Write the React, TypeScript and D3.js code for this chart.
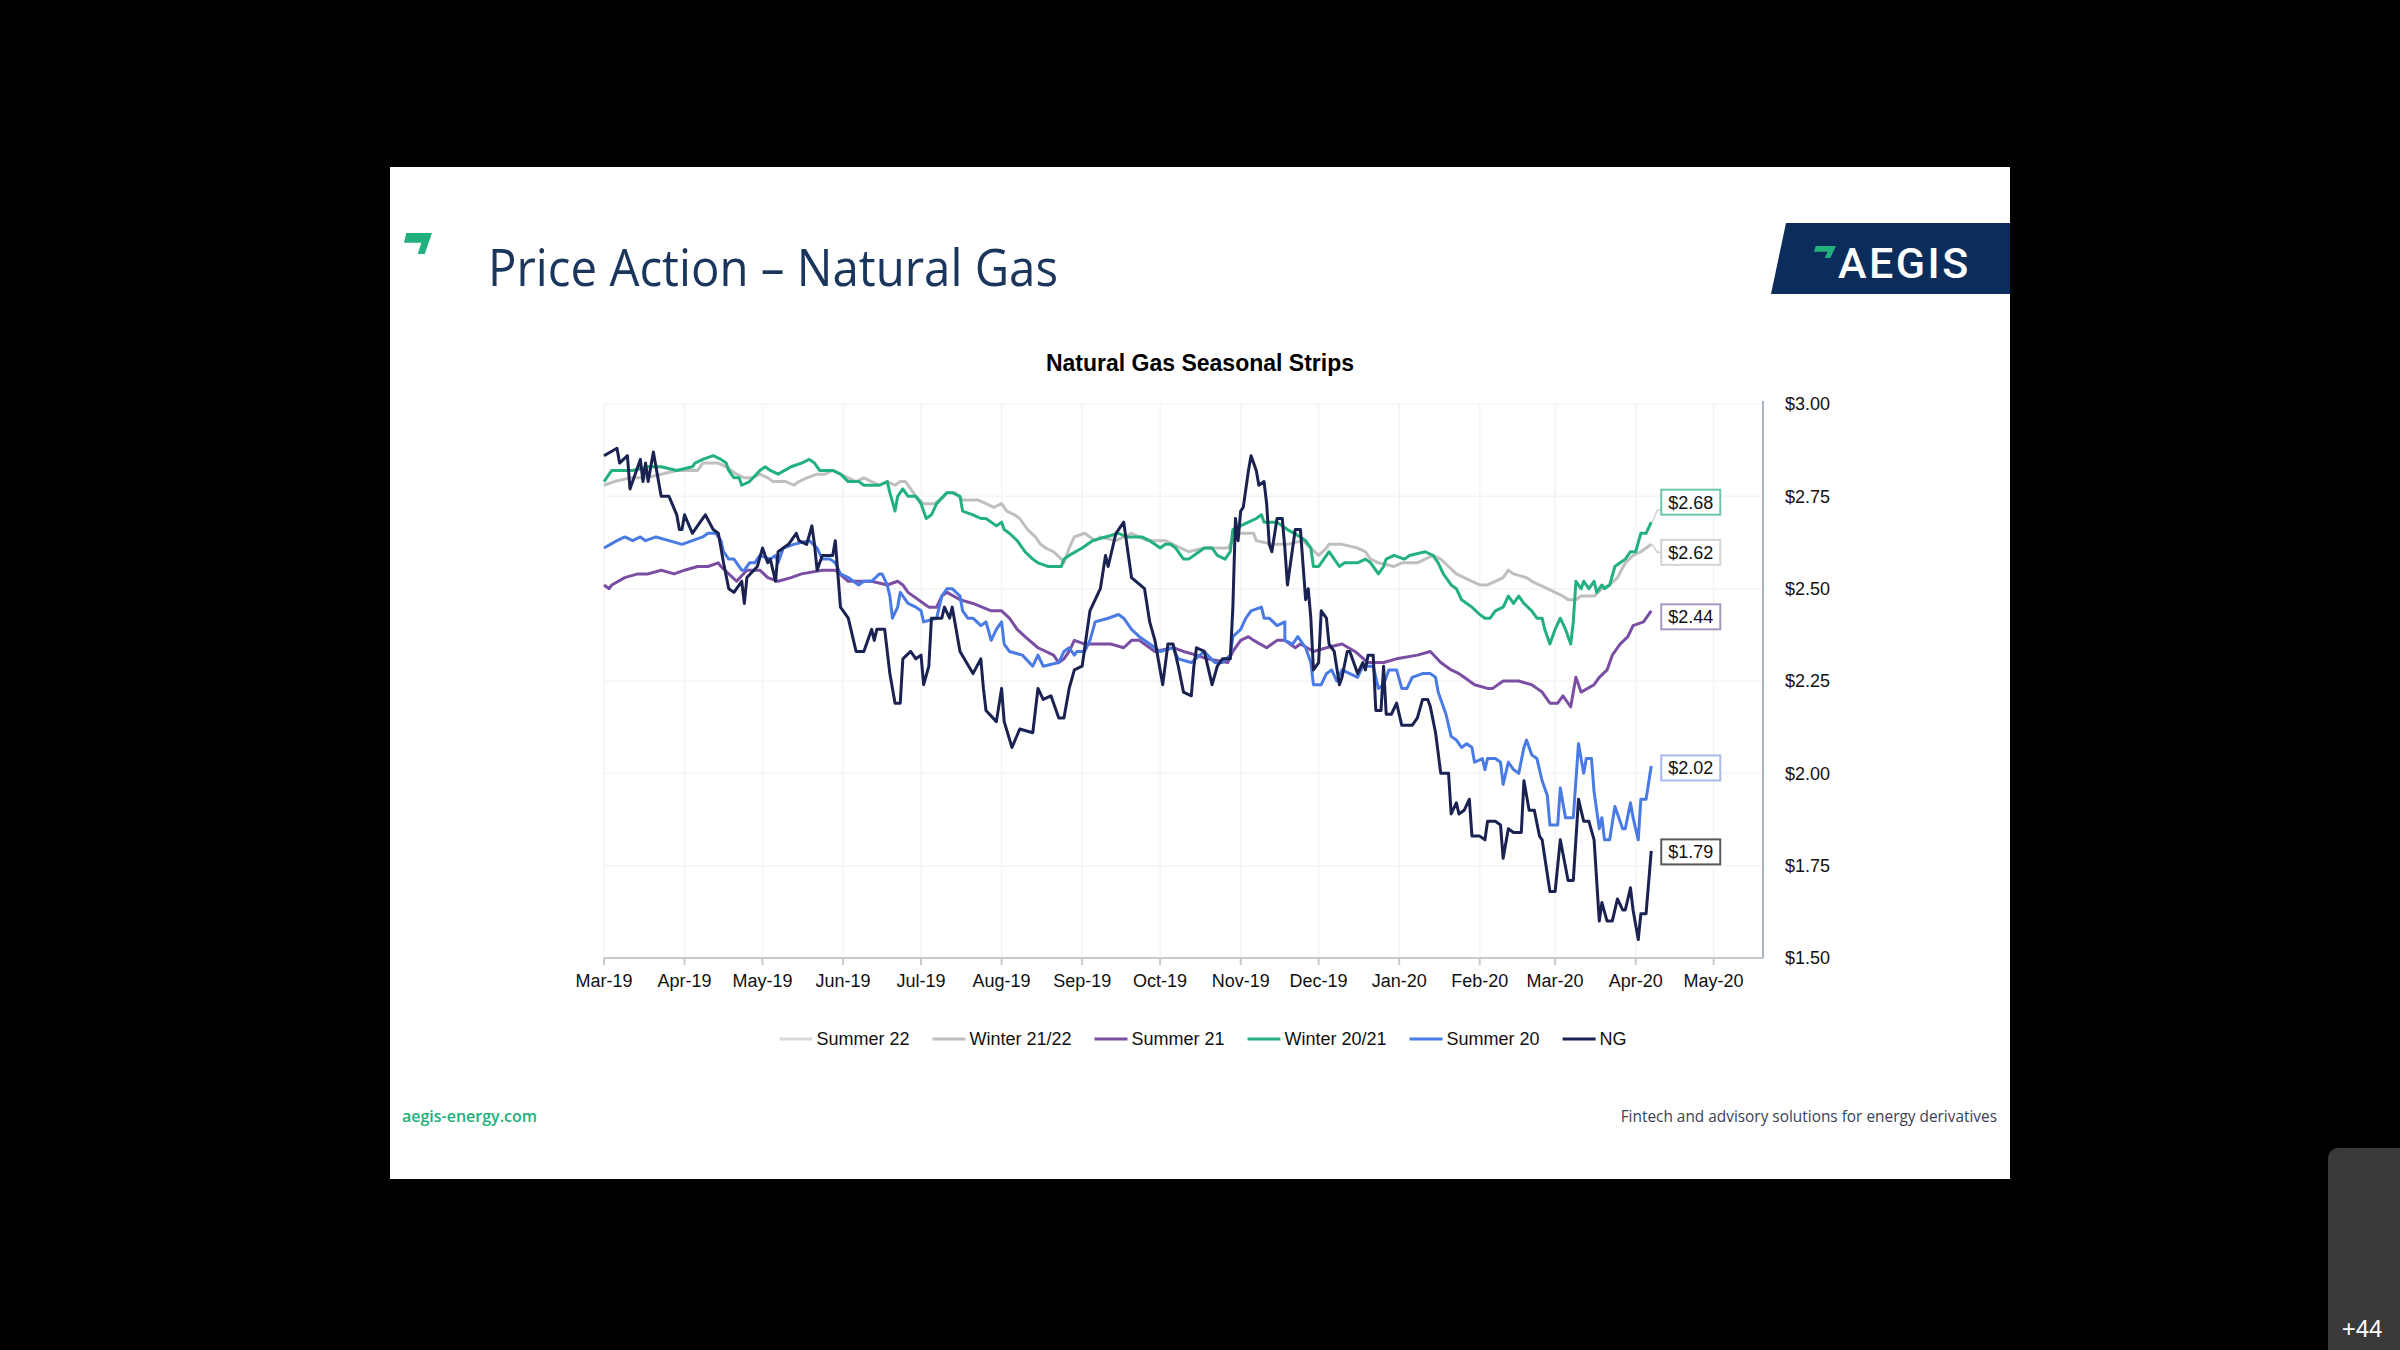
import * as d3 from "d3";

// days counted from 1 Mar 2019, value in $/MMBtu
type Pt = [number, number];

const START = new Date(2019, 2, 1);
const X_END = new Date(2020, 4, 20);
const MONTH_TICKS = d3.timeMonth.range(new Date(2019, 2, 1), new Date(2020, 4, 2));
const Y_TICKS = [1.5, 1.75, 2.0, 2.25, 2.5, 2.75, 3.0];

const NG: Pt[] = [
  [0, 2.86], [5, 2.88], [6, 2.84], [9, 2.86], [10, 2.77], [14, 2.85], [15, 2.79], [16, 2.84], [17, 2.79], [19, 2.87],
  [20, 2.83], [22, 2.75], [25, 2.75], [28, 2.7], [29, 2.66], [30, 2.66], [31, 2.7], [34, 2.65], [35, 2.66], [37, 2.68],
  [39, 2.7], [42, 2.66], [44, 2.65], [46, 2.57], [48, 2.5], [50, 2.49], [53, 2.52], [54, 2.46], [55, 2.53], [59, 2.56],
  [61, 2.61], [63, 2.57], [64, 2.58], [66, 2.52], [67, 2.6], [71, 2.62], [74, 2.65], [75, 2.63], [78, 2.62], [80, 2.67],
  [81, 2.62], [82, 2.55], [84, 2.59], [88, 2.59], [89, 2.63], [91, 2.45], [94, 2.42], [97, 2.33], [100, 2.33], [103, 2.39],
  [104, 2.36], [105, 2.39], [108, 2.39], [110, 2.27], [112, 2.19], [114, 2.19], [115, 2.31], [118, 2.33], [120, 2.31], [122, 2.32],
  [123, 2.24], [125, 2.29], [126, 2.42], [130, 2.42], [131, 2.45], [133, 2.42], [134, 2.45], [137, 2.33], [142, 2.27], [145, 2.31],
  [146, 2.23], [147, 2.17], [151, 2.14], [153, 2.23], [154, 2.14], [157, 2.07], [160, 2.12], [165, 2.11], [167, 2.23], [169, 2.2],
  [172, 2.21], [175, 2.15], [177, 2.15], [179, 2.23], [181, 2.28], [184, 2.29], [187, 2.44], [191, 2.5], [193, 2.59], [194, 2.56],
  [197, 2.65], [200, 2.68], [203, 2.53], [208, 2.5], [210, 2.41], [212, 2.36], [215, 2.24], [217, 2.35], [219, 2.35], [221, 2.29],
  [223, 2.22], [226, 2.21], [227, 2.29], [228, 2.34], [231, 2.33], [234, 2.24], [236, 2.29], [238, 2.31], [241, 2.31], [242, 2.45],
  [243, 2.69], [244, 2.63], [245, 2.71], [246, 2.72], [248, 2.82], [249, 2.86], [251, 2.82], [252, 2.78], [254, 2.79], [255, 2.73],
  [256, 2.62], [257, 2.6], [259, 2.69], [261, 2.69], [262, 2.61], [263, 2.51], [265, 2.61], [266, 2.66], [268, 2.66], [270, 2.47],
  [271, 2.5], [272, 2.42], [273, 2.28], [275, 2.3], [276, 2.44], [278, 2.42], [279, 2.35], [281, 2.33], [283, 2.24], [284, 2.26],
  [286, 2.33], [287, 2.33], [290, 2.27], [292, 2.3], [293, 2.28], [294, 2.32], [296, 2.32], [297, 2.17], [299, 2.17], [300, 2.29],
  [301, 2.16], [303, 2.16], [305, 2.19], [307, 2.13], [311, 2.13], [313, 2.15], [315, 2.2], [317, 2.2], [318, 2.18], [320, 2.11],
  [322, 2.0], [325, 2.0], [326, 1.89], [328, 1.92], [329, 1.89], [331, 1.9], [333, 1.93], [334, 1.83], [337, 1.83], [339, 1.82],
  [340, 1.87], [343, 1.87], [345, 1.86], [346, 1.77], [348, 1.85], [350, 1.84], [353, 1.84], [354, 1.98], [356, 1.9], [358, 1.9],
  [360, 1.83], [361, 1.82], [364, 1.68], [366, 1.68], [368, 1.82], [371, 1.71], [373, 1.71], [375, 1.93], [377, 1.87], [379, 1.87],
  [381, 1.82], [383, 1.6], [384, 1.65], [386, 1.6], [388, 1.6], [390, 1.66], [392, 1.63], [393, 1.63], [395, 1.69], [396, 1.63],
  [398, 1.55], [399, 1.62], [401, 1.62], [403, 1.79],
];

const SUMMER_20: Pt[] = [
  [0, 2.61], [5, 2.63], [8, 2.64], [11, 2.63], [14, 2.64], [16, 2.63], [20, 2.64], [25, 2.63], [30, 2.62], [34, 2.63],
  [38, 2.64], [40, 2.65], [43, 2.65], [45, 2.63], [46, 2.6], [48, 2.58], [50, 2.58], [53, 2.55], [54, 2.55], [56, 2.57],
  [58, 2.57], [60, 2.59], [64, 2.58], [66, 2.59], [67, 2.57], [69, 2.61], [73, 2.62], [79, 2.63], [82, 2.61], [84, 2.58],
  [87, 2.58], [89, 2.57], [91, 2.54], [94, 2.53], [98, 2.51], [100, 2.52], [103, 2.52], [106, 2.54], [107, 2.54], [109, 2.51],
  [110, 2.48], [111, 2.42], [113, 2.45], [114, 2.49], [117, 2.46], [120, 2.45], [122, 2.44], [123, 2.41], [128, 2.42], [130, 2.48],
  [132, 2.5], [134, 2.5], [137, 2.48], [138, 2.44], [140, 2.42], [142, 2.42], [145, 2.4], [147, 2.41], [149, 2.36], [151, 2.39],
  [153, 2.41], [154, 2.35], [156, 2.33], [161, 2.32], [165, 2.29], [167, 2.32], [169, 2.29], [175, 2.3], [177, 2.33], [179, 2.34],
  [181, 2.32], [182, 2.33], [185, 2.33], [187, 2.36], [189, 2.41], [194, 2.42], [198, 2.43], [200, 2.42], [203, 2.39], [206, 2.37],
  [210, 2.35], [214, 2.33], [219, 2.34], [221, 2.31], [226, 2.3], [231, 2.33], [235, 2.3], [238, 2.3], [241, 2.32], [242, 2.37],
  [245, 2.39], [247, 2.42], [249, 2.44], [253, 2.45], [254, 2.42], [256, 2.42], [259, 2.4], [262, 2.41], [262, 2.36], [265, 2.35],
  [267, 2.37], [268, 2.36], [270, 2.34], [272, 2.3], [273, 2.24], [276, 2.24], [278, 2.27], [280, 2.28], [282, 2.25], [284, 2.28],
  [287, 2.27], [290, 2.26], [292, 2.29], [296, 2.29], [298, 2.23], [300, 2.24], [302, 2.28], [305, 2.28], [307, 2.23], [309, 2.23],
  [311, 2.26], [315, 2.27], [318, 2.27], [320, 2.26], [321, 2.22], [324, 2.16], [326, 2.1], [328, 2.09], [330, 2.07], [332, 2.08],
  [334, 2.07], [335, 2.03], [338, 2.04], [339, 2.01], [340, 2.04], [343, 2.04], [345, 2.03], [346, 1.97], [348, 2.03], [350, 2.01],
  [352, 2.0], [354, 2.07], [355, 2.09], [357, 2.05], [359, 2.04], [361, 1.98], [363, 1.94], [364, 1.86], [367, 1.86], [368, 1.96],
  [370, 1.88], [373, 1.88], [375, 2.08], [377, 2.0], [378, 2.04], [380, 2.04], [381, 1.95], [383, 1.85], [384, 1.88], [385, 1.82],
  [387, 1.82], [389, 1.91], [392, 1.85], [393, 1.85], [395, 1.92], [396, 1.88], [398, 1.82], [399, 1.93], [401, 1.93], [403, 2.02],
];

const SUMMER_21: Pt[] = [
  [0, 2.51], [2, 2.5], [3, 2.51], [8, 2.53], [13, 2.54], [17, 2.54], [22, 2.55], [27, 2.54], [31, 2.55], [36, 2.56],
  [40, 2.56], [44, 2.57], [45, 2.56], [48, 2.54], [51, 2.52], [55, 2.55], [60, 2.55], [63, 2.53], [67, 2.52], [72, 2.53],
  [76, 2.54], [84, 2.55], [89, 2.55], [94, 2.52], [103, 2.52], [109, 2.51], [113, 2.52], [115, 2.51], [117, 2.49], [123, 2.46],
  [125, 2.45], [128, 2.45], [130, 2.48], [132, 2.49], [137, 2.47], [142, 2.46], [149, 2.44], [153, 2.44], [156, 2.42], [159, 2.39],
  [162, 2.37], [167, 2.34], [173, 2.32], [175, 2.3], [177, 2.31], [179, 2.33], [181, 2.36], [185, 2.35], [191, 2.35], [195, 2.35],
  [200, 2.34], [203, 2.36], [206, 2.36], [212, 2.33], [219, 2.34], [223, 2.33], [228, 2.32], [232, 2.31], [240, 2.3], [242, 2.33],
  [245, 2.36], [248, 2.37], [250, 2.36], [255, 2.34], [259, 2.36], [262, 2.36], [266, 2.34], [268, 2.35], [273, 2.33], [278, 2.34],
  [284, 2.35], [289, 2.33], [294, 2.3], [300, 2.3], [305, 2.31], [313, 2.32], [318, 2.33], [322, 2.3], [326, 2.28], [329, 2.27],
  [331, 2.26], [335, 2.24], [340, 2.23], [342, 2.23], [346, 2.25], [352, 2.25], [357, 2.24], [359, 2.23], [361, 2.22], [364, 2.19],
  [367, 2.19], [369, 2.21], [372, 2.18], [374, 2.26], [376, 2.22], [381, 2.24], [383, 2.26], [386, 2.28], [388, 2.32], [391, 2.35],
  [394, 2.37], [396, 2.4], [400, 2.41], [403, 2.44],
];

const WINTER_2021: Pt[] = [
  [0, 2.79], [3, 2.82], [6, 2.82], [11, 2.82], [17, 2.83], [22, 2.83], [28, 2.82], [34, 2.83], [35, 2.84], [38, 2.85],
  [42, 2.86], [45, 2.85], [47, 2.84], [48, 2.82], [50, 2.8], [52, 2.8], [53, 2.78], [56, 2.79], [60, 2.82], [62, 2.83],
  [64, 2.82], [67, 2.81], [72, 2.83], [76, 2.84], [79, 2.85], [81, 2.84], [83, 2.82], [88, 2.82], [91, 2.81], [94, 2.79],
  [96, 2.79], [98, 2.79], [100, 2.78], [106, 2.78], [109, 2.79], [110, 2.76], [112, 2.71], [113, 2.75], [115, 2.77], [117, 2.75],
  [120, 2.75], [122, 2.73], [124, 2.69], [126, 2.7], [128, 2.73], [132, 2.76], [134, 2.76], [137, 2.75], [138, 2.71], [142, 2.7],
  [145, 2.69], [147, 2.69], [151, 2.67], [153, 2.68], [154, 2.66], [156, 2.65], [159, 2.63], [162, 2.6], [165, 2.58], [167, 2.57],
  [171, 2.56], [176, 2.56], [177, 2.58], [179, 2.59], [184, 2.61], [188, 2.63], [193, 2.64], [198, 2.65], [201, 2.64], [207, 2.64],
  [210, 2.63], [212, 2.62], [214, 2.61], [216, 2.62], [218, 2.62], [220, 2.61], [223, 2.58], [225, 2.58], [229, 2.6], [231, 2.61],
  [234, 2.61], [236, 2.59], [239, 2.58], [241, 2.6], [242, 2.66], [245, 2.67], [248, 2.68], [251, 2.69], [253, 2.7], [254, 2.68],
  [259, 2.68], [261, 2.67], [263, 2.66], [268, 2.64], [270, 2.63], [272, 2.61], [273, 2.56], [275, 2.56], [277, 2.58], [279, 2.6],
  [281, 2.58], [283, 2.56], [285, 2.57], [290, 2.57], [293, 2.58], [295, 2.57], [297, 2.55], [298, 2.54], [300, 2.56], [301, 2.58],
  [304, 2.59], [308, 2.58], [310, 2.59], [316, 2.6], [319, 2.59], [321, 2.57], [323, 2.54], [326, 2.51], [328, 2.5], [330, 2.47],
  [332, 2.46], [334, 2.45], [337, 2.43], [339, 2.42], [341, 2.42], [343, 2.44], [346, 2.45], [348, 2.48], [350, 2.46], [352, 2.48],
  [354, 2.46], [357, 2.44], [359, 2.42], [361, 2.42], [362, 2.39], [364, 2.35], [366, 2.39], [368, 2.42], [370, 2.39], [372, 2.35],
  [373, 2.41], [374, 2.52], [376, 2.5], [377, 2.52], [379, 2.5], [381, 2.52], [382, 2.49], [384, 2.51], [385, 2.5], [387, 2.51],
  [389, 2.56], [391, 2.57], [393, 2.58], [395, 2.6], [397, 2.6], [399, 2.65], [401, 2.65], [403, 2.68],
];

const WINTER_2122: Pt[] = [
  [0, 2.78], [4, 2.79], [10, 2.8], [16, 2.8], [22, 2.81], [28, 2.82], [34, 2.82], [36, 2.82], [38, 2.84], [41, 2.84],
  [44, 2.84], [47, 2.83], [49, 2.82], [51, 2.81], [54, 2.8], [57, 2.8], [60, 2.81], [63, 2.8], [65, 2.79], [70, 2.79],
  [73, 2.78], [75, 2.79], [78, 2.8], [82, 2.81], [85, 2.81], [88, 2.82], [91, 2.81], [94, 2.8], [97, 2.79], [100, 2.8],
  [103, 2.79], [106, 2.78], [109, 2.79], [112, 2.78], [114, 2.79], [116, 2.79], [118, 2.77], [120, 2.75], [123, 2.73], [127, 2.73],
  [129, 2.74], [132, 2.76], [135, 2.76], [138, 2.74], [144, 2.74], [147, 2.73], [150, 2.72], [153, 2.73], [155, 2.71], [158, 2.7],
  [160, 2.69], [163, 2.66], [166, 2.64], [168, 2.62], [170, 2.61], [173, 2.6], [176, 2.58], [177, 2.57], [179, 2.61], [181, 2.64],
  [185, 2.65], [189, 2.63], [191, 2.64], [197, 2.63], [203, 2.65], [209, 2.63], [212, 2.63], [216, 2.63], [219, 2.62], [222, 2.61],
  [225, 2.6], [231, 2.61], [234, 2.61], [240, 2.61], [242, 2.63], [245, 2.65], [248, 2.65], [250, 2.65], [251, 2.63], [257, 2.62],
  [263, 2.62], [269, 2.63], [272, 2.61], [275, 2.59], [278, 2.61], [279, 2.62], [284, 2.62], [290, 2.61], [293, 2.6], [295, 2.58],
  [298, 2.57], [304, 2.56], [307, 2.57], [313, 2.57], [319, 2.59], [322, 2.58], [325, 2.56], [328, 2.54], [331, 2.53], [334, 2.52],
  [337, 2.51], [340, 2.51], [343, 2.52], [346, 2.53], [348, 2.55], [350, 2.54], [355, 2.53], [357, 2.52], [360, 2.51], [363, 2.5],
  [366, 2.49], [369, 2.48], [371, 2.47], [374, 2.47], [376, 2.48], [379, 2.48], [381, 2.48], [384, 2.5], [387, 2.51], [390, 2.53],
  [393, 2.57], [396, 2.59], [399, 2.6], [401, 2.61], [403, 2.62],
];

// listed in the legend only, no line visible on the chart
const SUMMER_22: Pt[] = [];

const SERIES = [
  { name: "Summer 22", color: "#d9d9d9", data: SUMMER_22 },
  { name: "Winter 21/22", color: "#bfbfbf", data: WINTER_2122 },
  { name: "Summer 21", color: "#7a4ea3", data: SUMMER_21 },
  { name: "Winter 20/21", color: "#22b07d", data: WINTER_2021 },
  { name: "Summer 20", color: "#4a7ae3", data: SUMMER_20 },
  { name: "NG", color: "#1a2252", data: NG },
];

const LABELS = [
  { series: "Winter 20/21", dy: -20, border: "#6cc8a4", leader: true },
  { series: "Winter 21/22", dy: 8, border: "#d4d4d4", leader: true },
  { series: "Summer 21", dy: 6, border: "#a796c0", leader: false },
  { series: "Summer 20", dy: 2, border: "#a6bbec", leader: false },
  { series: "NG", dy: 1, border: "#5a5a5a", leader: false },
];

const PLOT = { left: 604, right: 1763, top: 404, bottom: 958 };
const CHART_FONT = "'Liberation Sans', Arial, sans-serif";

let ctx: CanvasRenderingContext2D | null = null;
function measure(text: string, font: string) {
  if (!ctx) ctx = document.createElement("canvas").getContext("2d");
  if (!ctx) return text.length * 9;
  ctx.font = font;
  return ctx.measureText(text).width;
}

// little "7" mark of the logo
function markPoints(x: number, y: number, w: number, h: number) {
  return [
    [x + 0.08 * w, y], [x + w, y], [x + 0.74 * w, y + h], [x + 0.49 * w, y + h],
    [x + 0.62 * w, y + 0.47 * h], [x, y + 0.47 * h],
  ].map((p) => p.join(",")).join(" ");
}

export default function App() {
  const x = d3.scaleTime().domain([START, X_END]).range([PLOT.left, PLOT.right]);
  const y = d3.scaleLinear().domain([1.5, 3]).range([PLOT.bottom, PLOT.top]);
  const day = (d: number) => d3.timeDay.offset(START, d);

  const line = d3
    .line<Pt>()
    .x((d) => x(day(d[0])))
    .y((d) => y(d[1]));

  const fmtMonth = d3.timeFormat("%b-%y");

  // legend layout
  const legendFont = `18px ${CHART_FONT}`;
  const swatch = 33;
  const items = SERIES.map((s) => ({ ...s, w: measure(s.name, legendFont) }));
  const totalW = d3.sum(items, (d) => swatch + 4 + d.w) + 23 * (items.length - 1);
  let cursor = 1203 - totalW / 2;
  const legend = items.map((it) => {
    const pos = cursor;
    cursor += swatch + 4 + it.w + 23;
    return { ...it, x0: pos };
  });

  return (
    <div style={{ position: "fixed", left: 0, top: 0, width: 2400, height: 1350, background: "#000" }}>
      <svg width={2400} height={1350} style={{ display: "block" }}>
        <rect x={0} y={0} width={2400} height={1350} fill="#000" />
        {/* slide */}
        <rect x={390} y={167} width={1620} height={1012} fill="#fff" />
        <polygon points={markPoints(404, 233, 28, 21)} fill="#22b07d" />
        <text
          x={488}
          y={286}
          fontFamily="'Open Sans', 'Noto Sans', sans-serif"
          fontSize={52}
          fill="#1b365d"
          textLength={570}
          lengthAdjust="spacingAndGlyphs"
        >
          Price Action – Natural Gas
        </text>

        {/* AEGIS badge */}
        <polygon points="1786,223 2010,223 2010,294 1771,294" fill="#0c2d5c" />
        <polygon points={markPoints(1814, 246, 22, 12)} fill="#22b07d" />
        <text x={1838} y={278} fontFamily="Roboto, sans-serif" fontWeight={500} fontSize={43} letterSpacing={2.5} fill="#fff">
          AEGIS
        </text>

        {/* chart title */}
        <text x={1200} y={371} textAnchor="middle" fontFamily={CHART_FONT} fontWeight={700} fontSize={23} fill="#000">
          Natural Gas Seasonal Strips
        </text>

        {/* gridlines */}
        <g stroke="#f4f4f4" strokeWidth={1.5}>
          {MONTH_TICKS.map((m) => (
            <line key={+m} x1={x(m)} x2={x(m)} y1={PLOT.top} y2={PLOT.bottom} />
          ))}
          {Y_TICKS.map((t) => (
            <line key={t} x1={PLOT.left} x2={PLOT.right} y1={y(t)} y2={y(t)} />
          ))}
        </g>

        {/* series */}
        <g fill="none" strokeWidth={3} strokeLinejoin="round">
          {SERIES.filter((s) => s.data.length).map((s) => (
            <path key={s.name} d={line(s.data) ?? ""} stroke={s.color} />
          ))}
        </g>

        {/* axes */}
        <line x1={PLOT.left} x2={PLOT.right} y1={PLOT.bottom} y2={PLOT.bottom} stroke="#c9c9c9" strokeWidth={2} />
        <line x1={PLOT.right} x2={PLOT.right} y1={PLOT.top - 3} y2={PLOT.bottom} stroke="#a9b3c6" strokeWidth={2} />
        <g fontFamily={CHART_FONT} fontSize={18} fill="#111">
          {MONTH_TICKS.map((m) => (
            <g key={+m}>
              <line x1={x(m)} x2={x(m)} y1={PLOT.bottom} y2={PLOT.bottom + 7} stroke="#c9c9c9" strokeWidth={2} />
              <text x={x(m)} y={PLOT.bottom + 29} textAnchor="middle">
                {fmtMonth(m)}
              </text>
            </g>
          ))}
          {Y_TICKS.map((t) => (
            <text key={t} x={1785} y={y(t)} dy="0.35em">
              {`$${t.toFixed(2)}`}
            </text>
          ))}
        </g>

        {/* end-of-series labels */}
        {LABELS.map((l) => {
          const s = SERIES.find((d) => d.name === l.series)!;
          const last = s.data[s.data.length - 1];
          const ex = x(day(last[0]));
          const ey = y(last[1]);
          const bx = ex + 10;
          const cy = ey + l.dy;
          const bw = 59;
          const bh = 25;
          const ly = l.dy < 0 ? cy + 8 : cy;
          return (
            <g key={l.series}>
              {l.leader && (
                <polyline
                  points={`${ex + 1},${ey} ${bx - 4},${ly} ${bx},${ly}`}
                  fill="none"
                  stroke="#d0d0d0"
                  strokeWidth={1.5}
                />
              )}
              <rect x={bx} y={cy - bh / 2} width={bw} height={bh} fill="#fff" stroke={l.border} strokeWidth={2} />
              <text x={bx + bw / 2} y={cy} dy="0.36em" textAnchor="middle" fontFamily={CHART_FONT} fontSize={18} fill="#111">
                {`$${last[1].toFixed(2)}`}
              </text>
            </g>
          );
        })}

        {/* legend */}
        <g fontFamily={CHART_FONT} fontSize={18} fill="#111">
          {legend.map((it) => (
            <g key={it.name}>
              <line x1={it.x0} x2={it.x0 + swatch} y1={1039} y2={1039} stroke={it.color} strokeWidth={3} />
              <text x={it.x0 + swatch + 4} y={1039} dy="0.35em">
                {it.name}
              </text>
            </g>
          ))}
        </g>

        {/* footer */}
        <text
          x={402}
          y={1122}
          fontFamily="'Open Sans', sans-serif"
          fontWeight={600}
          fontSize={16}
          fill="#22b07d"
          textLength={135}
          lengthAdjust="spacingAndGlyphs"
        >
          aegis-energy.com
        </text>
        <text
          x={1997}
          y={1122}
          textAnchor="end"
          fontFamily="'Open Sans', sans-serif"
          fontSize={15.4}
          fill="#3b3f55"
        >
          Fintech and advisory solutions for energy derivatives
        </text>

        {/* overlay tile bottom-right */}
        <rect x={2328} y={1148} width={90} height={230} rx={10} fill="#3a3a3a" />
        <text x={2362} y={1337} textAnchor="middle" fontFamily={CHART_FONT} fontSize={24} fill="#fff">
          +44
        </text>
      </svg>
    </div>
  );
}
